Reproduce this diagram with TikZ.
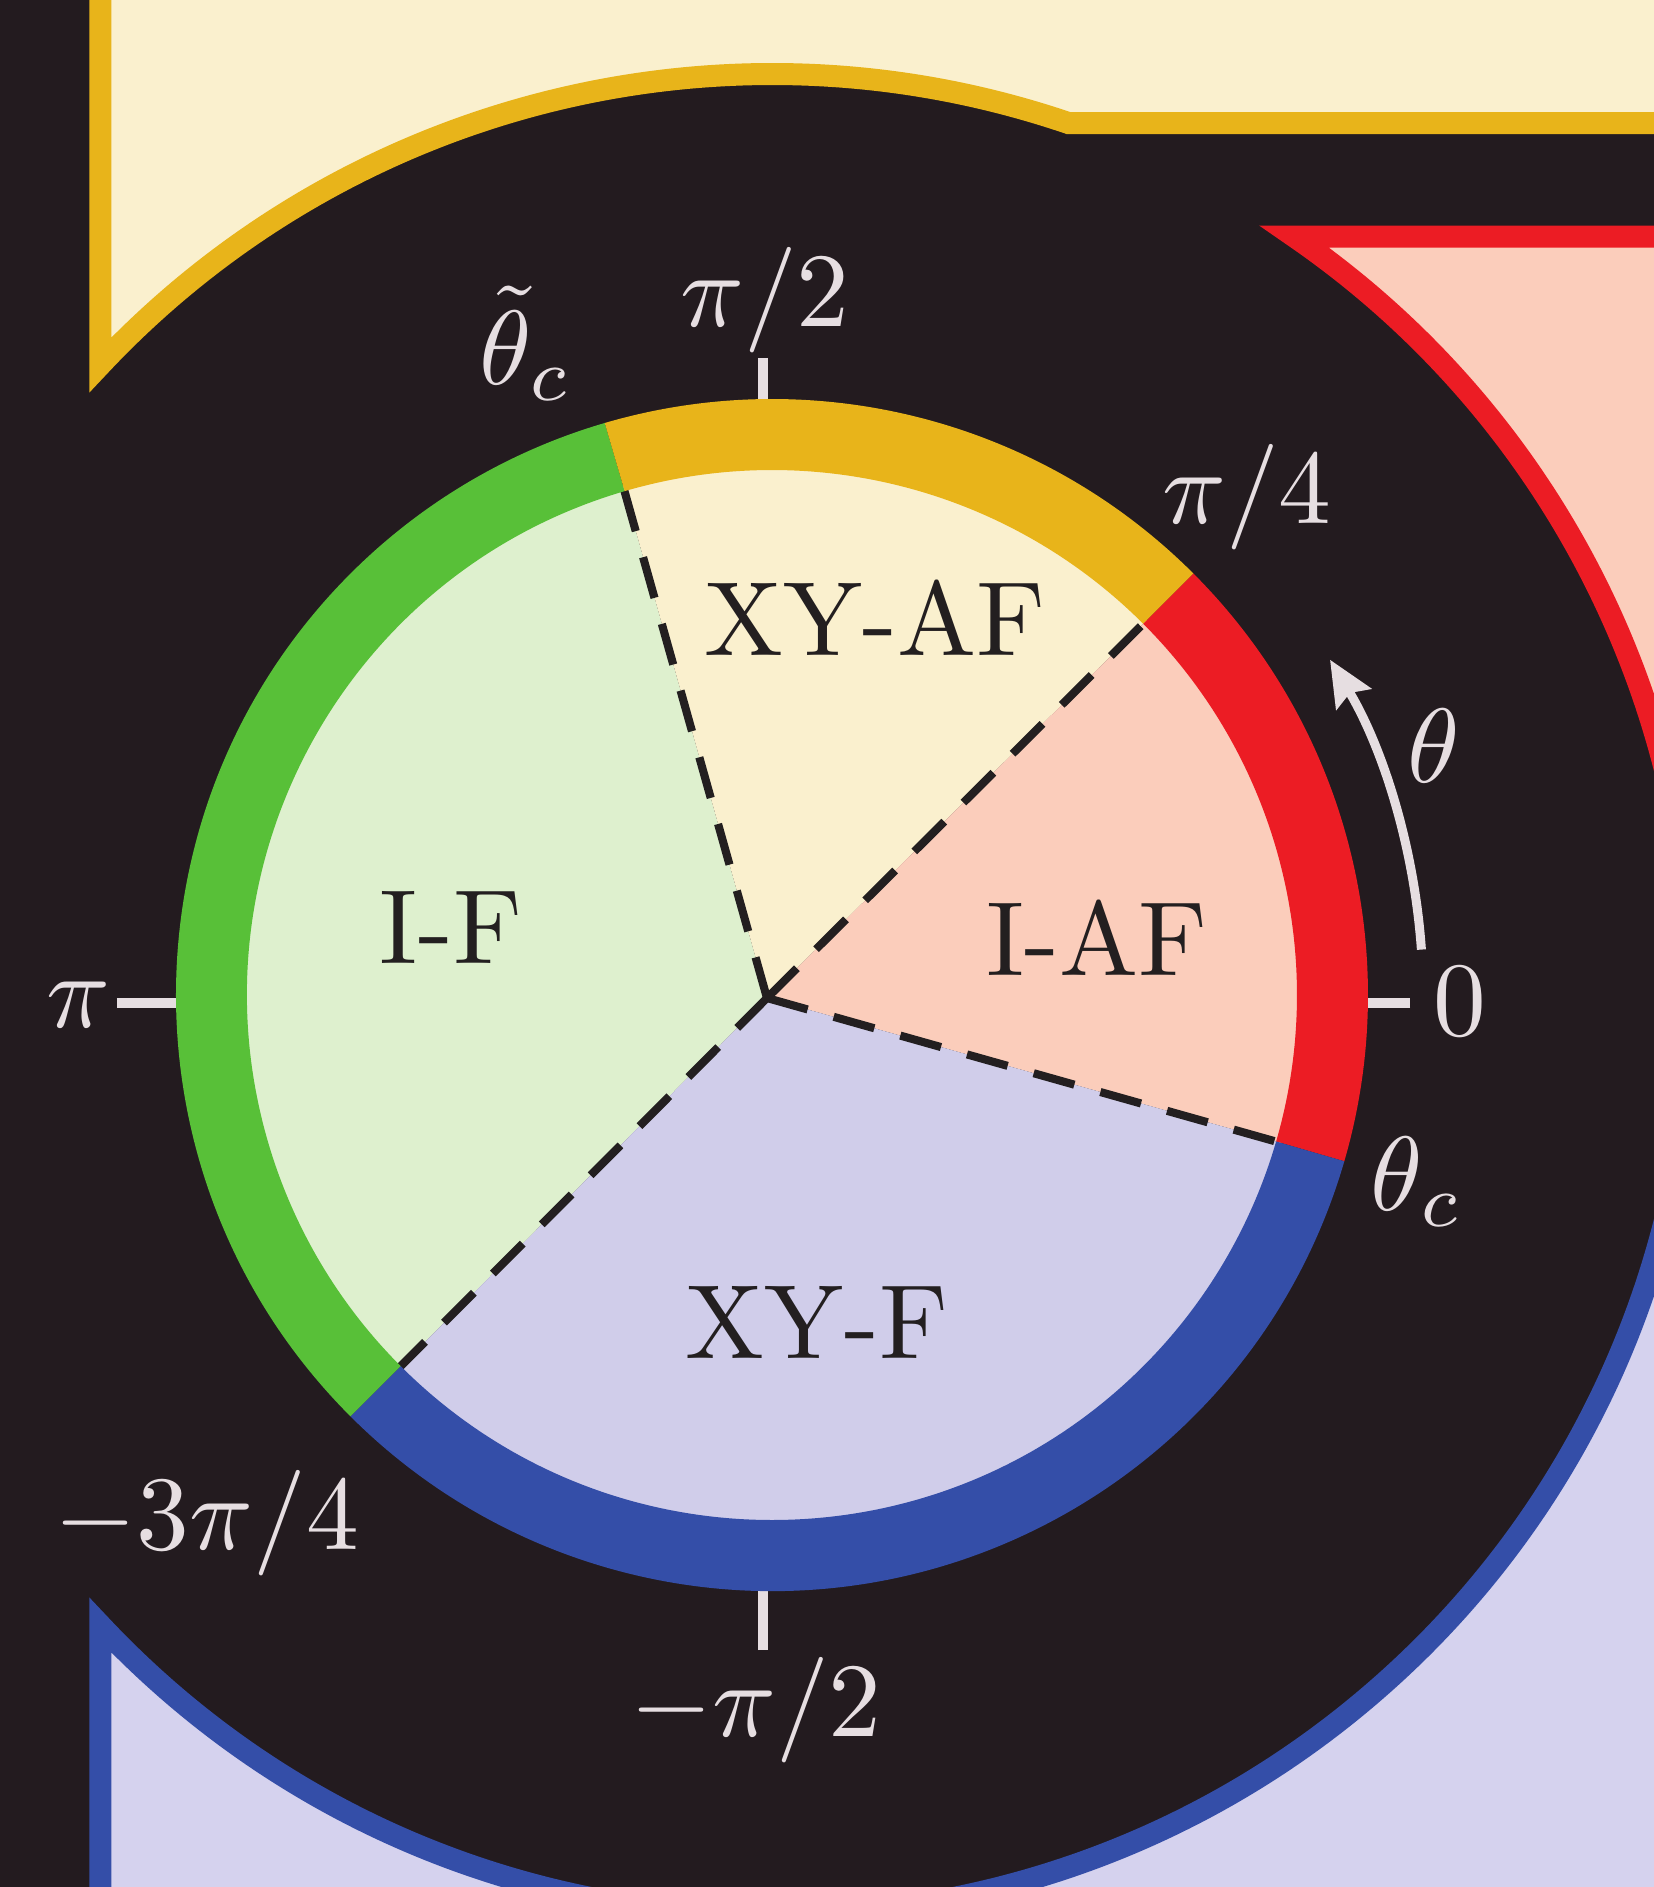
\documentclass[tikz,border=0pt]{standalone}
\usetikzlibrary{arrows.meta}
\definecolor{bgdark}{HTML}{231B1F}
\definecolor{lighttext}{HTML}{E6DEE1}
\definecolor{yring}{HTML}{E8B41A}
\definecolor{yfill}{HTML}{FAF0CE}
\definecolor{rring}{HTML}{EC1C24}
\definecolor{rfill}{HTML}{FBCDBB}
\definecolor{bring}{HTML}{344EA8}
\definecolor{bfill}{HTML}{D0CDEA}
\definecolor{bregion}{HTML}{D5D2EE}
\definecolor{gring}{HTML}{58C038}
\definecolor{gfill}{HTML}{DEF0CE}
\definecolor{dashcol}{HTML}{231F20}
\begin{document}
\begin{tikzpicture}[x=0.01cm,y=0.01cm,
  lbl/.style={text=lighttext, font=\fontsize{10}{12}\usefont{OT1}{cmr}{m}{n}, inner sep=0pt, scale=3},
  phase/.style={text=dashcol, font=\fontsize{10}{12}\usefont{OT1}{cmr}{m}{n}, inner sep=0pt, scale=3},
  region/.style={line width=6.26pt, miter limit=20},
  dashline/.style={draw=dashcol, line width=2.3pt, dash pattern=on 12pt off 7.7pt},
  tickmark/.style={draw=lighttext, line width=2.85pt}]
\useasboundingbox (-772,-892) rectangle (882,995);
\clip (-772,-892) rectangle (882,995);
\fill[bgdark] (-772,-892) rectangle (882,995);

% large outer regions
\filldraw[region, fill=yfill, draw=yring] (-671.5,1200) -- (136.83:921)
  arc[start angle=136.83, end angle=71.22, radius=921] -- (1100,872) -- (1100,1200) -- cycle;
\filldraw[region, fill=rfill, draw=rring] (1100,758.5) -- (55.44:921)
  arc[start angle=55.44, end angle=-10, radius=921] -- (1100,-160) -- cycle;
\filldraw[region, fill=bregion, draw=bring] (-671.5,-1200) -- (-136.83:921)
  arc[start angle=-136.83, end angle=10, radius=921] -- (1100,160) -- (1100,-1200) -- cycle;

% ticks
\coordinate (tc) at (-9,-8);
\draw[tickmark] (-9,637) -- (-9,580);
\draw[tickmark] (-9,-655) -- (-9,-580);
\draw[tickmark] (-655,-8) -- (-580,-8);
\draw[tickmark] (638,-8) -- (580,-8);

% sectors
\coordinate (o) at (-5,-3);
\fill[gfill] (o) -- (106.3:530) arc[start angle=106.3, end angle=225, radius=530] -- cycle;
\fill[yfill] (o) -- (45:530) arc[start angle=45, end angle=106.3, radius=530] -- cycle;
\fill[rfill] (o) -- (-16.2:530) arc[start angle=-16.2, end angle=45, radius=530] -- cycle;
\fill[bfill] (o) -- (-135:530) arc[start angle=-135, end angle=-16.2, radius=530] -- cycle;

% dashed boundaries
\draw[dashline] (o) -- (106.3:540);
\draw[dashline] (o) -- (45:540);
\draw[dashline] (o) -- (-16.2:540);
\draw[dashline] (o) -- (-135:540);

% ring
\fill[gring] (106.3:525) arc[start angle=106.3, end angle=225, radius=525] -- (225:596) arc[start angle=225, end angle=106.3, radius=596] -- cycle;
\fill[yring] (45:525) arc[start angle=45, end angle=106.3, radius=525] -- (106.3:596) arc[start angle=106.3, end angle=45, radius=596] -- cycle;
\fill[rring] (-16.2:525) arc[start angle=-16.2, end angle=45, radius=525] -- (45:596) arc[start angle=45, end angle=-16.2, radius=596] -- cycle;
\fill[bring] (-135:525) arc[start angle=-135, end angle=-16.2, radius=525] -- (-16.2:596) arc[start angle=-16.2, end angle=-135, radius=596] -- cycle;

% theta arrow
\draw[draw=lighttext, line width=2.56pt, -{Stealth[length=13pt, width=11.4pt, inset=2pt]}]
  (4:651) arc[start angle=4, end angle=31, radius=651];

% phase labels
\node[phase] (xyaf) at (103,376) {XY-AF};
\node[phase] (if) at (-321,68) {I-F};
\node[phase] (iaf) at (325,56) {I-AF};
\node[phase] (xyf) at (45,-327) {XY-F};

% angle labels
\node[lbl] (l1) at (-7,695) {$\pi/2$};
\node[lbl] (l2) at (475,498) {$\pi/4$};
\node[lbl] (l3) at (688,-7) {$0$};
\node[lbl] (l4) at (662,249) {$\theta$};
\node[lbl] (l5) at (645,-187) {$\theta_c$};
\node[lbl] (l6) at (-246,652) {$\tilde{\theta}_c$};
\node[lbl] (l7) at (-694,-10) {$\pi$};
\node[lbl] (l8) at (-565,-528) {$-3\pi/4$};
\node[lbl] (l9) at (-16,-715) {$-\pi/2$};
\end{tikzpicture}
\end{document}
